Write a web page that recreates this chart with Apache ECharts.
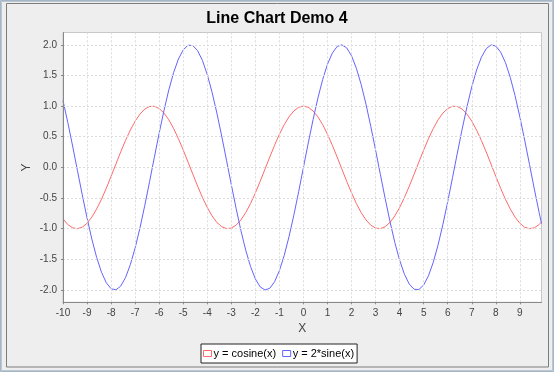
<!DOCTYPE html>
<html>
<head>
<meta charset="utf-8">
<script src="https://cdn.jsdelivr.net/npm/echarts@6/dist/echarts.min.js"></script>
<style>
html,body{margin:0;padding:0;background:#eeeeee;}
#chart{width:554px;height:372px;}
</style>
</head>
<body>
<div id="chart"></div>
<script>
// x sample positions
var xValues = [-10,-9.8,-9.6,-9.4,-9.2,-9,-8.8,-8.6,-8.4,-8.2,-8,-7.8,-7.6,-7.4,-7.2,-7,-6.8,-6.6,-6.4,-6.2,
  -6,-5.8,-5.6,-5.4,-5.2,-5,-4.8,-4.6,-4.4,-4.2,-4,-3.8,-3.6,-3.4,-3.2,-3,-2.8,-2.6,-2.4,-2.2,
  -2,-1.8,-1.6,-1.4,-1.2,-1,-0.8,-0.6,-0.4,-0.2,
  0,0.2,0.4,0.6,0.8,1,1.2,1.4,1.6,1.8,2,2.2,2.4,2.6,2.8,3,3.2,3.4,3.6,3.8,
  4,4.2,4.4,4.6,4.8,5,5.2,5.4,5.6,5.8,6,6.2,6.4,6.6,6.8,7,7.2,7.4,7.6,7.8,
  8,8.2,8.4,8.6,8.8,9,9.2,9.4,9.6,9.8,9.9];
// y = cosine(x)
var cosValues = [-0.839,-0.932,-0.985,-1.000,-0.975,-0.911,-0.811,-0.677,-0.520,-0.340,
  -0.146,0.054,0.253,0.439,0.608,0.754,0.869,0.951,0.993,0.997,
  0.960,0.886,0.776,0.635,0.469,0.284,0.087,-0.112,-0.307,-0.490,
  -0.654,-0.791,-0.897,-0.967,-0.998,-0.990,-0.942,-0.857,-0.737,-0.589,
  -0.416,-0.227,-0.029,0.170,0.362,0.540,0.697,0.825,0.921,0.980,
  1.000,0.980,0.921,0.825,0.697,0.540,0.362,0.170,-0.029,-0.227,
  -0.416,-0.589,-0.737,-0.857,-0.942,-0.990,-0.998,-0.967,-0.897,-0.791,
  -0.654,-0.490,-0.307,-0.112,0.087,0.284,0.469,0.635,0.776,0.886,
  0.960,0.997,0.993,0.951,0.869,0.754,0.608,0.439,0.253,0.054,
  -0.146,-0.340,-0.520,-0.677,-0.811,-0.911,-0.975,-1.000,-0.985,-0.932,-0.889];
// y = 2*sine(x)
var sineValues = [1.088,0.733,0.349,-0.050,-0.446,-0.824,-1.170,-1.469,-1.709,-1.881,
  -1.979,-1.997,-1.936,-1.797,-1.587,-1.314,-0.988,-0.623,-0.233,0.166,
  0.559,0.929,1.263,1.546,1.767,1.918,1.992,1.987,1.903,1.743,
  1.514,1.224,0.885,0.511,0.117,-0.282,-0.670,-1.031,-1.351,-1.617,
  -1.819,-1.948,-1.999,-1.971,-1.864,-1.683,-1.435,-1.129,-0.779,-0.397,
  0,0.397,0.779,1.129,1.435,1.683,1.864,1.971,1.999,1.948,
  1.819,1.617,1.351,1.031,0.670,0.282,-0.117,-0.511,-0.885,-1.224,
  -1.514,-1.743,-1.903,-1.987,-1.992,-1.918,-1.767,-1.546,-1.263,-0.929,
  -0.559,-0.166,0.233,0.623,0.988,1.314,1.587,1.797,1.936,1.997,
  1.979,1.881,1.709,1.469,1.170,0.824,0.446,0.050,-0.349,-0.733,-0.915];
var xTicks = [-10,-9,-8,-7,-6,-5,-4,-3,-2,-1,0,1,2,3,4,5,6,7,8,9];
var yTicks = [-2.0,-1.5,-1.0,-0.5,0.0,0.5,1.0,1.5,2.0];
var seriesNames = ['y = cosine(x)', 'y = 2*sine(x)'];
var seriesColors = ['#ff6a6a', '#6464ff'];

function zip(xs, ys){ var out=[]; for(var i=0;i<xs.length;i++){ out.push([xs[i], ys[i]]); } return out; }

var FONT = 'Liberation Sans, Arial, sans-serif';
var chart = echarts.init(document.getElementById('chart'), null, {renderer:'canvas'});

var gridMarks = [];
xTicks.forEach(function(v){ gridMarks.push({xAxis:v}); });
yTicks.forEach(function(v){ gridMarks.push({yAxis:v}); });

chart.setOption({
  backgroundColor:'#eeeeee',
  animation:false,
  title:{text:'Line Chart Demo 4', left:'center', top:6,
    textStyle:{fontFamily:FONT, fontSize:16, fontWeight:'bold', color:'#000'}},
  graphic:[
    {type:'rect', silent:true, shape:{x:0.5,y:0.5,width:553,height:371}, style:{fill:null, stroke:'#a7b6c6', lineWidth:1}},
    {type:'rect', silent:true, shape:{x:1.5,y:1.5,width:551,height:369}, style:{fill:null, stroke:'#b9c6d3', lineWidth:1}},
    {type:'rect', silent:true, shape:{x:6.5,y:3.5,width:542,height:363.5}, style:{fill:null, stroke:'#7c7c7c', lineWidth:1}}
  ],
  grid:{left:63, right:12.5, top:32.5, bottom:69.7, show:true, backgroundColor:'#ffffff', borderColor:'#c8c8c8', borderWidth:1},
  legend:{
    left:201, top:344, orient:'horizontal',
    padding:[4,3,4,2], itemGap:6, itemWidth:8, itemHeight:6, icon:'rect',
    backgroundColor:'#ffffff', borderColor:'#222', borderWidth:1, borderRadius:0,
    textStyle:{fontFamily:FONT, fontSize:11, color:'#000', padding:[0,0,0,-3]},
    data:[
      {name:seriesNames[0], itemStyle:{color:'#ffffff', borderColor:seriesColors[0], borderWidth:1}},
      {name:seriesNames[1], itemStyle:{color:'#ffffff', borderColor:seriesColors[1], borderWidth:1}}
    ]
  },
  xAxis:{
    type:'value', min:-10, max:9.9, z:5,
    name:'X', nameLocation:'middle', nameGap:20, nameMoveOverlap:false,
    nameTextStyle:{fontFamily:FONT, fontSize:12, color:'#444'},
    axisLine:{show:true, onZero:false, lineStyle:{color:'#888888'}},
    axisTick:{show:true, length:2, customValues:xTicks, lineStyle:{color:'#888888'}},
    axisLabel:{customValues:xTicks, margin:6, fontFamily:FONT, fontSize:10, color:'#444'},
    splitLine:{show:false}
  },
  yAxis:{
    type:'value', min:-2.2, max:2.2, z:5,
    name:'Y', nameLocation:'middle', nameGap:30, nameMoveOverlap:false,
    nameTextStyle:{fontFamily:FONT, fontSize:12, color:'#444'},
    axisLine:{show:true, onZero:false, lineStyle:{color:'#888888'}},
    axisTick:{show:true, length:2, customValues:yTicks, lineStyle:{color:'#888888'}},
    axisLabel:{customValues:yTicks, margin:6, fontFamily:FONT, fontSize:10, color:'#444',
      formatter:function(v){ return Number(v).toFixed(1); }},
    splitLine:{show:false}
  },
  series:[
    {name:'grid', type:'line', data:[], z:1, silent:true,
     markLine:{silent:true, symbol:['none','none'], label:{show:false}, animation:false,
       lineStyle:{color:'#dcdcdc', type:[2,2], width:1}, emphasis:{disabled:true},
       data:gridMarks}},
    {name:seriesNames[0], type:'line', z:2, data:zip(xValues, cosValues), showSymbol:false, symbol:'none',
     lineStyle:{color:seriesColors[0], width:1}, itemStyle:{color:seriesColors[0]}},
    {name:seriesNames[1], type:'line', z:2, data:zip(xValues, sineValues), showSymbol:false, symbol:'none',
     lineStyle:{color:seriesColors[1], width:1}, itemStyle:{color:seriesColors[1]}}
  ]
});
</script>
</body>
</html>
